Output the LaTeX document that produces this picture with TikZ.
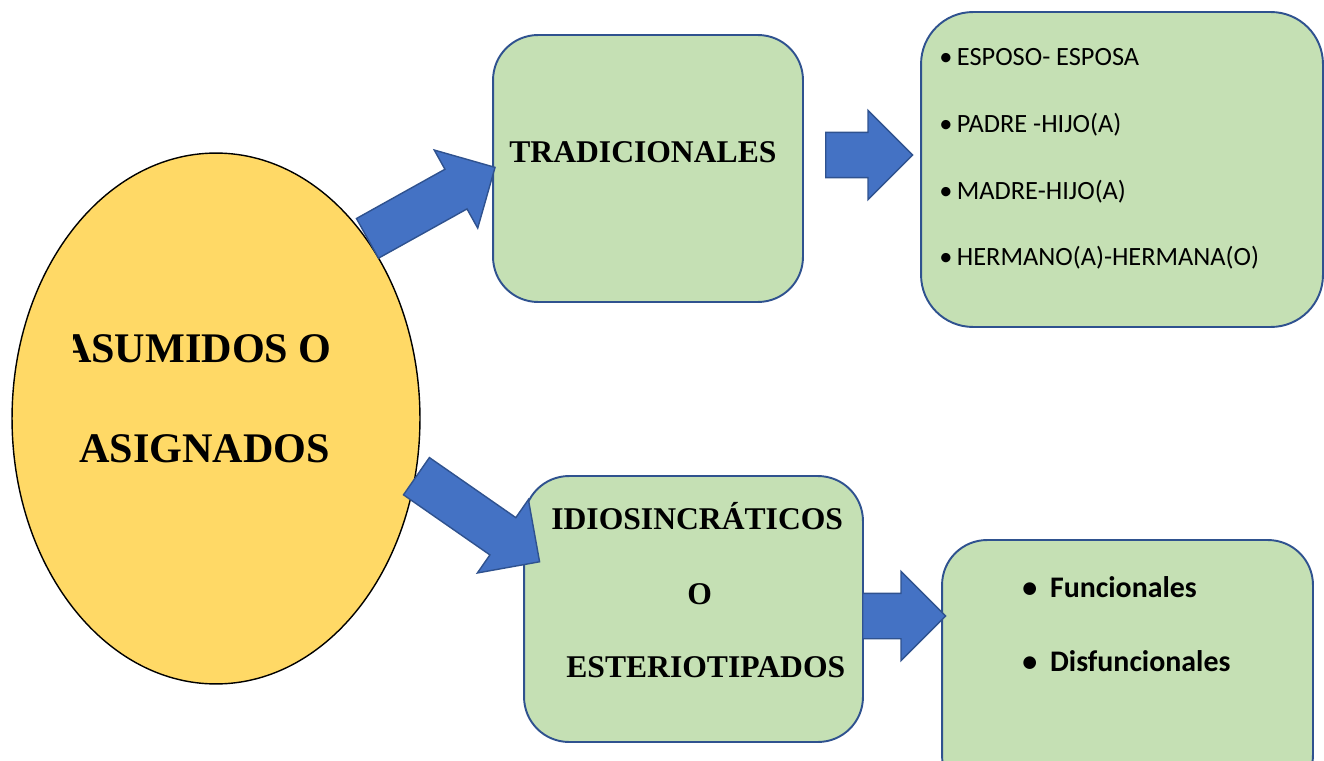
\documentclass[tikz,border=0pt]{standalone}
\usepackage{fontspec}
\setmainfont{Liberation Serif}
\newfontfamily\calibri{Carlito}
\usepackage{tikz}
\usetikzlibrary{shapes.geometric,shapes.arrows}
\definecolor{elfill}{HTML}{FFD966}
\definecolor{boxfill}{HTML}{C5E0B4}
\definecolor{boxline}{HTML}{2F528F}
\definecolor{arrfill}{HTML}{4472C4}

\begin{document}
\begin{tikzpicture}[
      x=0.02cm, y=-0.02cm,
      oval/.style={ellipse, draw=black, line width=0.8pt, fill=elfill, minimum width=8.16cm, minimum height=10.62cm, inner sep=0},
      box/.style={draw=boxline, line width=1.1pt, fill=boxfill, rounded corners=0.9cm, inner sep=0},
      blockarrow/.style={single arrow, draw=boxline, line width=0.8pt, fill=arrfill, inner xsep=0, inner ysep=0.44cm, single arrow head extend=0.44cm, anchor=tail},
      ovalT/.style={font=\bfseries\fontsize{24}{28}\selectfont, inner sep=0},
      boxT/.style={font=\bfseries\fontsize{18}{22}\selectfont, inner sep=0, anchor=base west},
      listT/.style={font=\calibri\fontsize{15}{18}\selectfont, inner sep=0, anchor=base west},
      listB/.style={font=\calibri\bfseries\fontsize{17}{20}\selectfont, inner sep=0, anchor=base west}
    ]

    \useasboundingbox (0,0) rectangle (1324,760);
    \clip (0,0) rectangle (1324,760);

    % -------- ELLIPSE --------
    \node[oval] (ell) at (216,418.5) {};
    \begin{scope}
      \clip (73,0) rectangle (1324,760);
      \node[ovalT, anchor=base east] (ellA) at (332,362) {ASUMIDOS O};
    \end{scope}
    \node[ovalT, anchor=base west] (ellB) at (79,462) {ASIGNADOS};

    % -------- BOXES --------
    \node[box, minimum width=6.2cm, minimum height=5.34cm] (trad) at (648,168.5) {};
    \node[box, minimum width=8.04cm, minimum height=6.3cm, rounded corners=1.04cm] (lst) at (1122,169.5) {};
    \node[box, minimum width=6.78cm, minimum height=5.32cm] (idio) at (693.5,609) {};
    \node[box, minimum width=7.42cm, minimum height=5.2cm] (roles) at (1127.5,670) {};

    % textos
    \node[boxT] (tradT) at (509,163) {TRADICIONALES};
    \node[boxT] (idioA) at (551,529) {IDIOSINCRÁTICOS};
    \node[boxT] (idioB) at (687,604) {O};
    \node[boxT] (idioC) at (566,677) {ESTERIOTIPADOS};

    \node[listT] (l1) at (939,66) {\makebox[10pt][l]{\textbullet}ESPOSO- ESPOSA};
    \node[listT] (l2) at (939,133) {\makebox[10pt][l]{\textbullet}PADRE -HIJO(A)};
    \node[listT] (l3) at (939,199) {\makebox[10pt][l]{\textbullet}MADRE-HIJO(A)};
    \node[listT] (l4) at (939,265) {\makebox[10pt][l]{\textbullet}HERMANO(A)-HERMANA(O)};

    \node[listB] (r1) at (1022,597) {\makebox[15.8pt][l]{\textbullet}Funcionales};
    \node[listB] (r2) at (1022,671) {\makebox[15.8pt][l]{\textbullet}Disfuncionales};

    % -------- BLOCK ARROWS --------
    \node[blockarrow, minimum height=2.92cm, rotate=29.1] (arrA) at (ell.50) {};
    \node[blockarrow, minimum height=3.0cm, rotate=-34.8] (arrB) at (ell.-16) {};
    \node[blockarrow, minimum height=1.74cm] (arrC) at (825,155) {};
    \node[blockarrow, minimum height=1.66cm] (arrD) at (862,616) {};

\end{tikzpicture}
\end{document}
